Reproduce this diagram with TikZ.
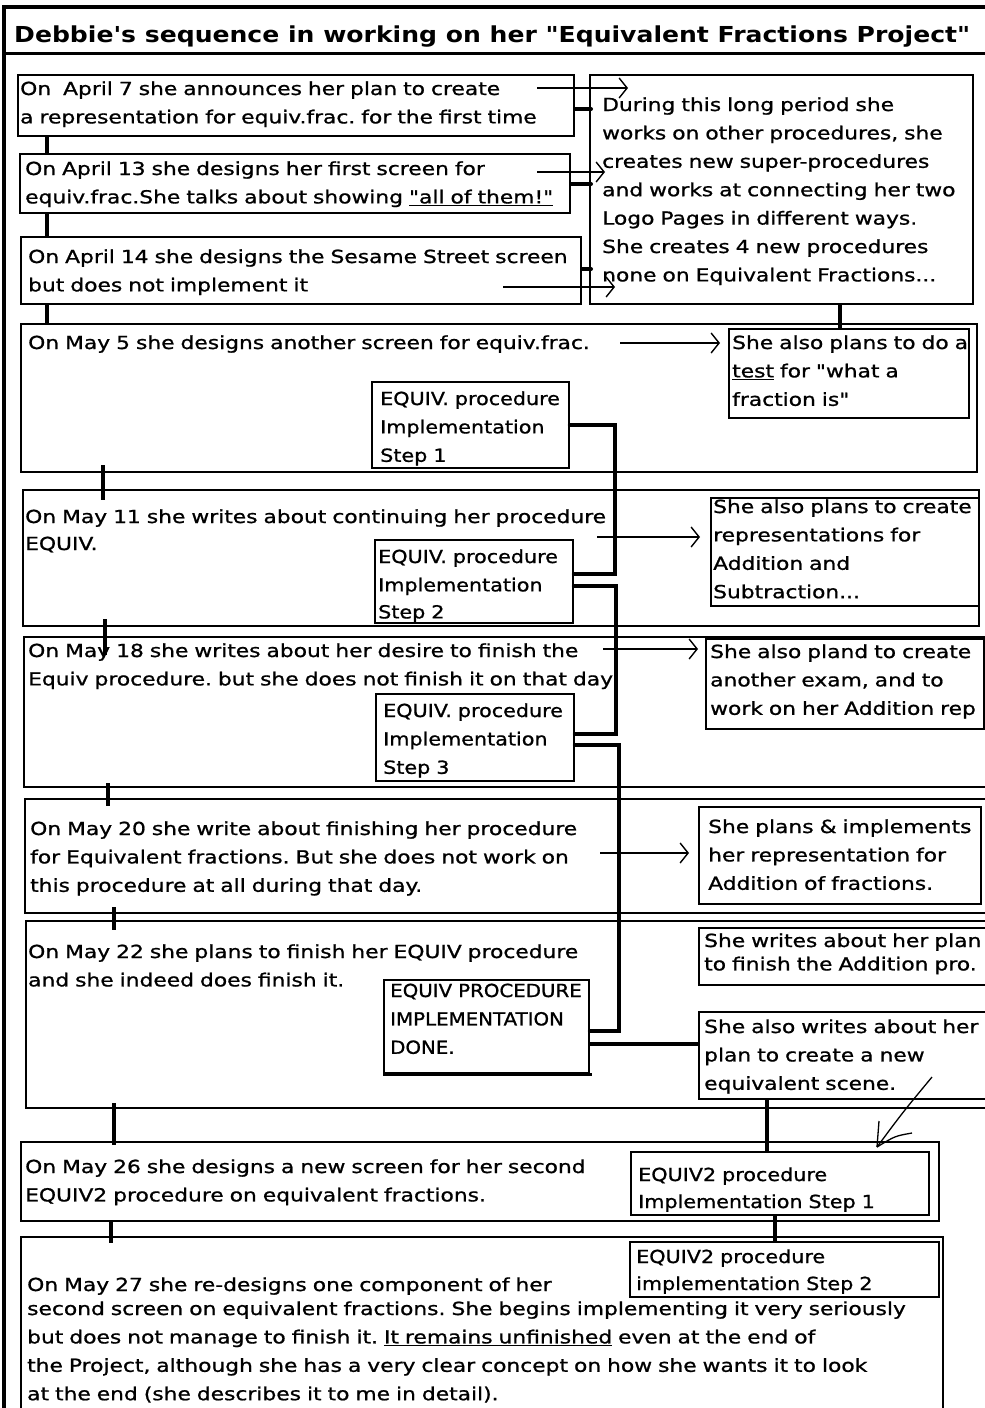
\documentclass[tikz,border=0pt]{standalone}
\usepackage{fontspec}
\setmainfont[FakeStretch=1.21, FakeBold=1, Ligatures=TeXOff]{DejaVu Sans}
\newfontfamily\boxfont[FakeStretch=1.15, FakeBold=1, Ligatures=TeXOff]{DejaVu Sans}
\newfontfamily\capsfont[FakeStretch=1.1, FakeBold=1, Ligatures=TeXOff]{DejaVu Sans}
\newfontfamily\headfont[FakeStretch=1.14, Ligatures=TeXOff]{DejaVu Sans Bold}
\usetikzlibrary{calc}
\usetikzlibrary{arrows.meta}
\tikzstyle{day} = [rectangle, draw, line width=2pt, anchor=north west, inner sep=0pt]
\tikzstyle{side} = [rectangle, draw, fill=white, line width=1.8pt,
    anchor=north west, inner sep=0pt]
\tikzstyle{txt} = [anchor=base west, inner sep=0pt, text width=960pt, align=left,
    font=\fontsize{18}{28.4}\selectfont\frenchspacing]
\tikzstyle{boxtxt} = [txt, font=\boxfont\fontsize{18}{28.4}\selectfont]
\tikzstyle{line} = [draw, line width=1.4pt, -{Straight Barb[length=8pt, width=20pt]}]
\tikzstyle{link} = [draw, line width=4pt, line cap=round]
\tikzstyle{tie} = [draw, line width=3.5pt]

\begin{document}
\begin{tikzpicture}[x=1pt, y=-1pt]
    \useasboundingbox (0,0) rectangle (985,1408);
    \fill[white] (0,0) rectangle (985,1408);
    % Frame and heading
    \draw[line width=3.5pt] (985,7) -- (4,7) -- (4,1412);
    \draw[line width=3pt] (4,53) -- (985,53);
    \node[anchor=base west, inner sep=0pt, font=\headfont\fontsize{22}{26}\selectfont] (title) at (14,42)
        {Debbie's sequence in working on her "Equivalent Fractions Project"};

    % Place day boxes
    \node[day, minimum width=556, minimum height=61] (dA) at (17,74) {};
    \node[day, minimum width=550, minimum height=59] (dB) at (19,153) {};
    \node[day, minimum width=560, minimum height=67] (dC) at (20,236) {};
    \node[day, minimum width=383, minimum height=229] (dD) at (589,74) {};
    \node[day, minimum width=956, minimum height=148] (dE) at (20,323) {};
    \node[day, minimum width=956, minimum height=136] (dF) at (22,489) {};
    \node[day, minimum width=975, minimum height=150] (dG) at (23,636) {};
    \node[day, minimum width=975, minimum height=114] (dH) at (24,798) {};
    \node[day, minimum width=975, minimum height=187] (dI) at (25,920) {};
    \node[day, minimum width=918, minimum height=79] (dJ) at (20,1141) {};
    \node[day, minimum width=922, minimum height=200] (dK) at (20,1236) {};

    % Day texts
    \node[txt] (tA) at (20,95) {On\ \ April 7 she announces her plan to create\\
        a representation for equiv.frac.\ for the first time};
    \node[txt] (tB) at (25,175) {On April 13 she designs her first screen for\\
        equiv.frac.She talks about showing \underline{"all of them!"}};
    \node[txt] (tC) at (28,263) {On April 14 she designs the Sesame Street screen\\
        but does not implement it};
    \node[txt] (tD) at (602,111) {During this long period she\\
        works on other procedures, she\\
        creates new super-procedures\\
        and works at connecting her two\\
        Logo Pages in different ways.\\
        She creates 4 new procedures\\
        none on Equivalent Fractions...};
    \node[txt] (tE) at (28,349) {On May 5 she designs another screen for equiv.frac.};
    \node[txt] (tF) at (25,523) {On May 11 she writes about continuing her procedure\\[-1.4pt]
        EQUIV.};
    \node[txt] (tG) at (28,657) {On May 18 she writes about her desire to finish the\\
        Equiv procedure. but she does not finish it on that day};
    \node[txt] (tH) at (30,835) {On May 20 she write about finishing her procedure\\
        for Equivalent fractions. But she does not work on\\
        this procedure at all during that day.};
    \node[txt] (tI) at (28,958) {On May 22 she plans to finish her EQUIV procedure\\
        and she indeed does finish it.};
    \node[txt] (tJ) at (25,1173) {On May 26 she designs a new screen for her second\\
        EQUIV2 procedure on equivalent fractions.};
    \node[txt] (tK) at (27,1291) {On May 27 she re-designs one component of her\\[-4.4pt]
        second screen on equivalent fractions. She begins implementing it very seriously\\
        but does not manage to finish it. \underline{It remains unfinished} even at the end of\\
        the Project, although she has a very clear concept on how she wants it to look\\
        at the end (she describes it to me in detail).};

    % Side notes
    \node[side, minimum width=240, minimum height=89] (eside) at (728,328) {};
    \node[txt] at (732,349) {She also plans to do a\\
        \underline{test} for "what a\\
        fraction is"};
    \node[side, minimum width=268, minimum height=108] (fside) at (710,497) {};
    \node[txt] at (713,513) {She also plans to create\\
        representations for\\
        Addition and\\
        Subtraction...};
    \node[side, minimum width=278, minimum height=90] (gside) at (705,638) {};
    \node[txt] at (710,658) {She also pland to create\\
        another exam, and to\\
        work on her Addition rep};
    \node[side, minimum width=282, minimum height=97] (hside) at (698,806) {};
    \node[txt] at (708,833) {She plans \& implements\\
        her representation for\\
        Addition of fractions.};
    \node[side, minimum width=295, minimum height=57] (iside) at (698,927) {};
    \node[txt] at (704,947) {She writes about her plan\\[-5pt]
        to finish the Addition pro.};
    \node[side, minimum width=295, minimum height=87] (jside) at (698,1011) {};
    \node[txt] at (704,1033) {She also writes about her\\
        plan to create a new\\
        equivalent scene.};

    % Procedure steps
    \node[side, minimum width=197, minimum height=86] (s1) at (371,381) {};
    \node[boxtxt] at (380,405) {EQUIV. procedure\\ Implementation\\ Step 1};
    \node[side, minimum width=198, minimum height=83] (s2) at (374,539) {};
    \node[boxtxt] at (378,563) {EQUIV. procedure\\ Implementation\\[-1.4pt] Step 2};
    \node[side, minimum width=198, minimum height=87] (s3) at (375,693) {};
    \node[boxtxt] at (383,717) {EQUIV. procedure\\ Implementation\\ Step 3};
    \node[side, minimum width=205, minimum height=93] (done) at (383,979) {};
    \node[txt, font=\capsfont\fontsize{18}{28.4}\selectfont] at (390,997) {EQUIV PROCEDURE\\ IMPLEMENTATION\\ DONE.};
    \draw[line width=3pt] ([yshift=-1pt]done.south west) -- ([xshift=2pt, yshift=-1pt]done.south east);
    \node[side, minimum width=298, minimum height=63] (q1) at (630,1151) {};
    \node[boxtxt] at (638,1181) {EQUIV2 procedure\\[-1.4pt] Implementation Step 1};
    \node[side, minimum width=309, minimum height=55] (q2) at (629,1241) {};
    \node[boxtxt] at (636,1263) {EQUIV2 procedure\\[-1.4pt] implementation Step 2};

    % Draw edges between days
    \draw[tie] ($(dA.south west)+(30,0)$) -- ($(dB.north west)+(28,0)$);
    \draw[tie] ($(dB.south west)+(28,0)$) -- ($(dC.north west)+(27,0)$);
    \draw[tie] ($(dC.south west)+(27,0)$) -- ($(dE.north west)+(27,0)$);
    \draw[tie] ($(dE.south west)+(83,-8)$) -- ($(dF.north west)+(81,11)$);
    \draw[tie] ($(dF.south west)+(83,-8)$) -- ($(dG.north west)+(82,19)$);
    \draw[tie] ($(dG.south west)+(85,-5)$) -- ($(dH.north west)+(84,8)$);
    \draw[tie] ($(dH.south west)+(90,-7)$) -- ($(dI.north west)+(89,10)$);
    \draw[tie] ($(dI.south west)+(89,-6)$) -- ($(dJ.north west)+(94,4)$);
    \draw[tie] ($(dJ.south west)+(91,0)$) -- ($(dK.north west)+(91,7)$);
    \draw[tie] ($(dD.south west)+(251,0)$) -- ($(eside.north west)+(112,0)$);
    \draw[tie] ($(jside.south west)+(69,0)$) -- ($(q1.north west)+(137,0)$);
    \draw[tie] ($(q1.south west)+(145,0)$) -- ($(q2.north west)+(146,0)$);

    % Short ties into the long period
    \draw[link] (dA.east) ++(0,3.5) -- ++(16,0);
    \draw[link] (dB.east) ++(0,0.5) -- ++(20,0);
    \draw[link] (dC.east) ++(0,-1.5) -- ++(9,0);

    % Arrows to side notes
    \coordinate (a1) at (537,88);
    \coordinate (a2) at (537,172);
    \coordinate (a3) at (503,287);
    \coordinate (a5) at (620,343);
    \coordinate (a11) at (597,537);
    \coordinate (a18) at (603,649);
    \coordinate (a20) at (600,853);
    \path [line] (a1) -- ++(91,0);
    \path [line] (a2) -- ++(68,0);
    \path [line] (a3) -- ++(112,0);
    \path [line] (a5) -- ++(100,0);
    \path [line] (a11) -- ++(103,0);
    \path [line] (a18) -- ++(95,0);
    \path [line] (a20) -- ++(89,0);

    % EQUIV implementation chain
    \draw[link] (s1.east) -| ([xshift=41pt, yshift=7.5pt]s2.east) -- ([yshift=7.5pt]s2.east);
    \draw[link] ([yshift=-4.5pt]s2.east) -| ([xshift=41pt, yshift=3.5pt]s3.east) -- ([yshift=3.5pt]s3.east);
    \draw[link] ([yshift=-7.5pt]s3.east) -| ([xshift=29pt, yshift=-4.5pt]done.east) -- ([yshift=-4.5pt]done.east);
    \coordinate (d1) at ([yshift=-17.5pt]done.east);
    \draw[link, line cap=butt] (d1) -- (d1 -| jside.west);

    % Pen stroke to EQUIV2
    \coordinate (pen) at (877,1147);
    \draw[line width=1.3pt] (932,1077) .. controls (903,1112) .. (pen);
    \draw[line width=1.3pt] (pen) -- (879,1121);
    \draw[line width=1.3pt] (pen) .. controls (895,1136) .. (912,1133);
\end{tikzpicture}
\end{document}
